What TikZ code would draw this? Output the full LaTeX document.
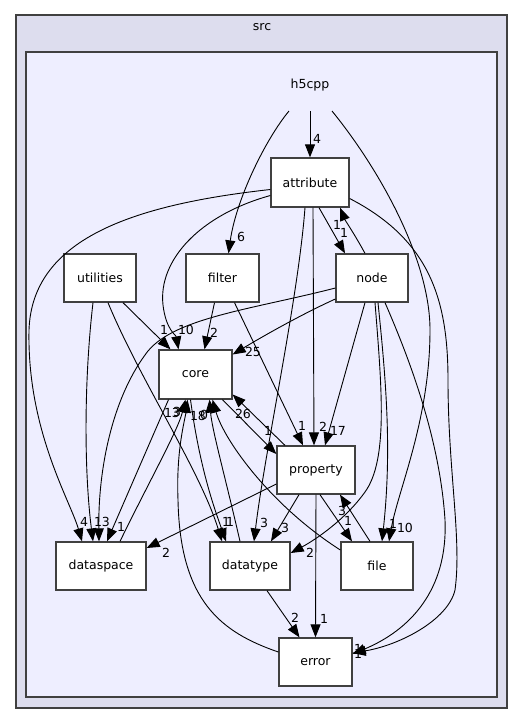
\documentclass[tikz,border=0pt]{standalone}
\usepackage{fontspec}
\setmainfont{DejaVu Sans}
\usetikzlibrary{arrows.meta,calc}
\definecolor{outerfill}{HTML}{DDDDEE}
\definecolor{innerfill}{HTML}{EEEEFF}
\definecolor{bordercol}{HTML}{404040}
\tikzset{
  dirbox/.style={draw=bordercol, line width=1.3pt, fill=white, inner sep=0pt, font=\fontsize{12.5}{14}\selectfont},
  dep/.style={draw=black, line width=0.9pt, -{Triangle[length=13pt,width=10pt]}},
  lbl/.style={inner sep=0pt, font=\fontsize{12.5}{14}\selectfont},
}
\begin{document}
\begin{tikzpicture}[x=1pt,y=-1pt]
\useasboundingbox (0,0) rectangle (525,724);
% clusters
\filldraw[fill=outerfill, draw=bordercol, line width=1.3pt] (16,15) rectangle (507,708);
\node[lbl] (srclbl) at (262,27) {src};
\filldraw[fill=innerfill, draw=bordercol, line width=1.3pt] (26,52) rectangle (497,697);
\node[lbl] (h5cpp) at (310,85) {h5cpp};
\coordinate (h5a) at (289,111);
\coordinate (h5b) at (310,111);
\coordinate (h5c) at (332,111);

% nodes
\node[dirbox, minimum width=78pt, minimum height=49pt] (attribute) at (310,182.5) {attribute};
\node[dirbox, minimum width=72pt, minimum height=48pt] (utilities) at (100,278) {utilities};
\node[dirbox, minimum width=73pt, minimum height=48pt] (filter) at (222.5,278) {filter};
\node[dirbox, minimum width=72pt, minimum height=48pt] (node) at (372,278) {node};
\node[dirbox, minimum width=73pt, minimum height=49pt] (core) at (195.5,374.5) {core};
\node[dirbox, minimum width=78pt, minimum height=48pt] (property) at (316,470) {property};
\node[dirbox, minimum width=90pt, minimum height=48pt] (dataspace) at (101,566) {dataspace};
\node[dirbox, minimum width=80pt, minimum height=48pt] (datatype) at (250,566) {datatype};
\node[dirbox, minimum width=72pt, minimum height=48pt] (file) at (377,566) {file};
\node[dirbox, minimum width=73pt, minimum height=48pt] (error) at (315.5,662) {error};

% h5cpp edges
\draw[dep] (h5b) -- (attribute.north);
\node[lbl] (l1) at (317,139) {4};
\draw[dep] (h5a) .. controls (265,140) and (236,200) .. ($(filter.north)+(6,0)$);
\node[lbl] (l2) at (241,237) {6};
\draw[dep] (h5c) .. controls (380,170) and (430,260) .. (430,330) .. controls (430,420) and (398,490) .. ($(file.north)+(12,0)$);
\node[lbl] (l3) at (405,528) {10};

% attribute edges
\draw[dep] ($(attribute.west)+(0,7)$) .. controls (130,205) and (32,240) .. (29,330) .. controls (27,430) and (70,500) .. ($(dataspace.north)+(-19,0)$);
\node[lbl] (l4) at (84,522) {4};
\draw[dep] ($(attribute.west)+(0,13)$) .. controls (200,215) and (158,260) .. (163,305) .. controls (166,330) and (176,335) .. ($(core.north)+(-17,0)$);
\node[lbl] (l5) at (186,330) {10};
\draw[dep] ($(attribute.south)+(-5,0)$) .. controls (298,300) and (265,450) .. ($(datatype.north)+(4,0)$);
\node[lbl] (l6) at (264,523) {3};
\draw[dep] ($(attribute.south)+(3,0)$) -- ($(property.north)+(-2,0)$);
\node[lbl] (l7) at (323,427) {2};
\draw[dep] ($(attribute.south)+(9,0)$) -- ($(node.north)+(-27,0)$);
\node[lbl] (l8) at (344,233) {1};
\draw[dep] ($(node.north)+(-7,0)$) .. controls (355,235) and (345,220) .. ($(attribute.south)+(30,0)$);
\node[lbl] (l9) at (337,225) {1};
\draw[dep] ($(attribute.east)+(0,16)$) .. controls (430,240) and (448,300) .. (448,380) .. controls (448,470) and (462,540) .. (455,590) .. controls (448,620) and (400,645) .. ($(error.east)+(0,-9)$);
\node[lbl] (l10) at (358,649) {1};
\draw[dep] ($(node.south)+(13,0)$) .. controls (410,360) and (440,440) .. (445,520) .. controls (448,590) and (410,630) .. ($(error.east)+(0,-8)$);
\node[lbl] (l11) at (358,654) {1};

% node edges
\draw[dep] ($(node.west)+(0,21)$) .. controls (300,315) and (260,338) .. ($(core.east)+(0,-20)$);
\node[lbl] (l12) at (253,352) {25};
\draw[dep] ($(node.west)+(0,10)$) .. controls (250,310) and (170,318) .. (145,355) .. controls (112,400) and (98,470) .. ($(dataspace.north)+(-2,0)$);
\node[lbl] (l13) at (102,522) {13};
\draw[dep] ($(node.south)+(-7,0)$) -- ($(property.north)+(9,0)$);
\node[lbl] (l14) at (338,431) {17};
\draw[dep] ($(node.south)+(3,0)$) .. controls (382,390) and (388,460) .. (365,492) .. controls (345,520) and (315,540) .. ($(datatype.east)+(0,-13)$);
\node[lbl] (l15) at (310,553) {2};
\draw[dep] ($(node.south)+(6,0)$) .. controls (386,380) and (392,450) .. ($(file.north)+(5,0)$);
\node[lbl] (l16) at (393,524) {1};

% utilities edges
\draw[dep] ($(utilities.south)+(23,0)$) -- ($(core.north)+(-25,0)$);
\node[lbl] (l17) at (164,330) {1};
\draw[dep] ($(utilities.south)+(8,0)$) .. controls (140,380) and (200,470) .. ($(datatype.north)+(-28,0)$);
\node[lbl] (l18) at (226,522) {1};
\draw[dep] ($(utilities.south)+(-7,0)$) .. controls (84,380) and (84,470) .. ($(dataspace.north)+(-8,0)$);

% core edges
\draw[dep] ($(core.south)+(-27,0)$) -- ($(dataspace.north)+(6,0)$);
\node[lbl] (l19) at (121,527) {1};
\draw[dep] ($(dataspace.north)+(19,0)$) .. controls (150,480) and (178,430) .. ($(core.south)+(-10,0)$);
\node[lbl] (l20) at (172,413) {13};
\draw[dep] ($(error.west)+(0,-10)$) .. controls (220,632) and (180,600) .. (178,500) .. controls (176,450) and (185,420) .. ($(core.south)+(-8,0)$);
\node[lbl] (l21) at (177,412) {3};
\draw[dep] ($(core.south)+(-5,0)$) .. controls (200,470) and (215,510) .. ($(datatype.north)+(-24,0)$);
\node[lbl] (l22) at (230,522) {1};
\draw[dep] ($(datatype.north)+(-10,0)$) .. controls (226,480) and (212,430) .. ($(core.south)+(14,0)$);
\node[lbl] (l23) at (198,416) {18};
\draw[dep] ($(file.west)+(0,-16)$) .. controls (270,505) and (224,440) .. ($(core.south)+(17,0)$);
\node[lbl] (l24) at (204,415) {0};
\draw[dep] ($(core.south)+(27,0)$) -- ($(property.west)+(0,-16)$);
\node[lbl] (l25) at (268,431) {1};
\draw[dep] ($(property.north)+(-31,0)$) -- ($(core.east)+(0,20)$);
\node[lbl] (l26) at (243,414) {26};

% filter edges
\draw[dep] ($(filter.south)+(-8,0)$) -- ($(core.north)+(9,0)$);
\node[lbl] (l27) at (214,333) {2};
\draw[dep] ($(filter.south)+(12,0)$) -- ($(property.north)+(-13,0)$);
\node[lbl] (l28) at (302,426) {1};

% property edges
\draw[dep] ($(property.west)+(0,14)$) -- ($(dataspace.east)+(0,-18)$);
\node[lbl] (l29) at (166,553) {2};
\draw[dep] ($(property.south)+(-17,0)$) -- ($(datatype.north)+(21,0)$);
\node[lbl] (l30) at (285,528) {3};
\draw[dep] ($(property.south)+(4,0)$) -- ($(file.north)+(-25,0)$);
\node[lbl] (l31) at (348,521) {1};
\draw[dep] ($(file.north)+(-7,0)$) -- ($(property.south)+(24,0)$);
\node[lbl] (l32) at (342,511) {3};
\draw[dep] (property.south) -- (error.north);
\node[lbl] (l33) at (324,619) {1};
\draw[dep] ($(datatype.south)+(17,0)$) -- ($(error.north)+(-16,0)$);
\node[lbl] (l34) at (295,618) {2};
\end{tikzpicture}
\end{document}
